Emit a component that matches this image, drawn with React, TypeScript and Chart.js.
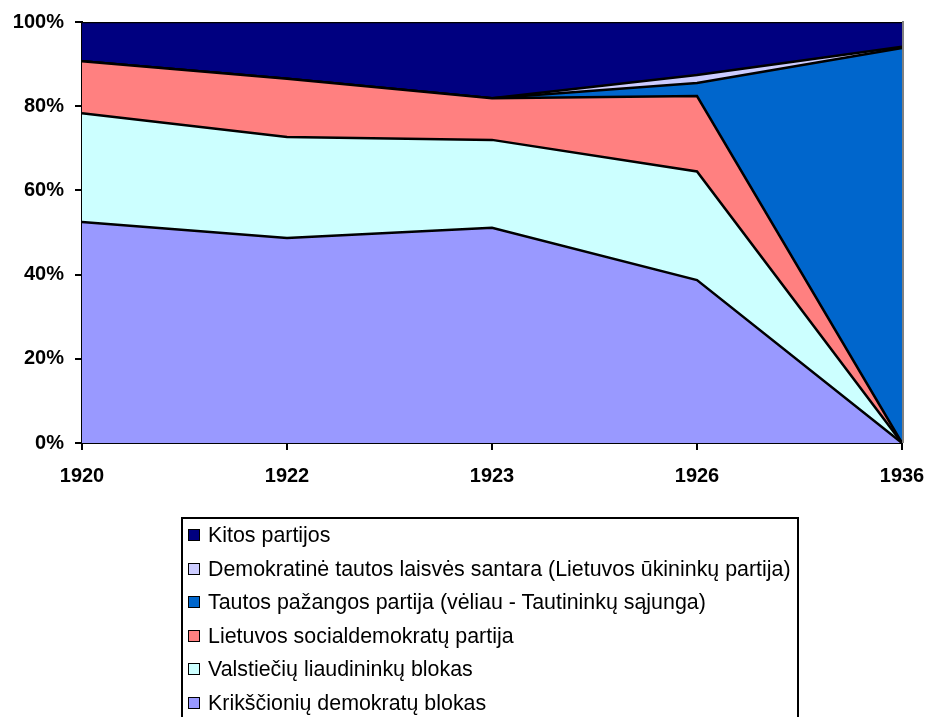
import React, { useEffect, useRef } from "react";
import { Chart, registerables } from "chart.js";

Chart.register(...registerables);

const years = ["1920", "1922", "1923", "1926", "1936"];

const krikscioniu = [52.5, 48.7, 51.1, 38.7, 0];
const valstieciu = [25.8, 24.0, 20.9, 25.8, 0];
const socialdemokratu = [12.4, 13.8, 9.9, 17.9, 0];
const tautosPazangos = [0, 0, 0, 3.1, 93.8];
const demokratine = [0, 0, 0, 1.9, 0.3];
const kitos = [9.3, 13.5, 18.1, 12.6, 5.9];

const yTicks = [0, 20, 40, 60, 80, 100];

const seriesNames = [
  "Krikščionių demokratų blokas",
  "Valstiečių liaudininkų blokas",
  "Lietuvos socialdemokratų partija",
  "Tautos pažangos partija (vėliau - Tautininkų sąjunga)",
  "Demokratinė tautos laisvės santara (Lietuvos ūkininkų partija)",
  "Kitos partijos",
];
const seriesValues = [krikscioniu, valstieciu, socialdemokratu, tautosPazangos, demokratine, kitos];
const seriesColors = ["#9999FF", "#CCFFFF", "#FF8080", "#0066CC", "#CCCCFF", "#000080"];

const FONT = '"Liberation Sans", Arial, Helvetica, sans-serif';

export default function App() {
  const canvasRef = useRef<HTMLCanvasElement | null>(null);

  useEffect(() => {
    if (!canvasRef.current) return;
    const rightBorder = {
      id: "rightBorder",
      afterDatasetsDraw(chart: any) {
        const { ctx, chartArea } = chart;
        ctx.save();
        ctx.strokeStyle = "#808080";
        ctx.lineWidth = 2;
        ctx.beginPath();
        ctx.moveTo(chartArea.right + 1, chartArea.top - 1);
        ctx.lineTo(chartArea.right + 1, chartArea.bottom);
        ctx.stroke();
        ctx.restore();
      },
    };
    const chart = new Chart(canvasRef.current, {
      type: "line",
      data: {
        labels: years,
        datasets: seriesValues.map((vals, i) => ({
          label: seriesNames[i],
          data: vals,
          backgroundColor: seriesColors[i],
          borderColor: "#000000",
          borderWidth: 2.5,
          pointRadius: 0,
          tension: 0,
          fill: i === 0 ? "origin" : "-1",
        })),
      },
      options: {
        responsive: false,
        animation: false,
        layout: { padding: { top: 22, right: 25, left: 0, bottom: 0 } },
        plugins: { legend: { display: false }, tooltip: { enabled: false } },
        scales: {
          x: {
            type: "category",
            offset: false,
            grid: {
              display: true,
              drawOnChartArea: false,
              drawTicks: true,
              tickLength: 7,
              color: "#000000",
              lineWidth: 2,
            },
            border: { display: true, color: "#000000", width: 2 },
            ticks: {
              color: "#000000",
              font: { family: FONT, size: 20, weight: "bold" },
              padding: 14,
              maxRotation: 0,
              autoSkip: false,
            },
            afterFit: (scale: any) => {
              scale.height = 274;
              scale.paddingRight = 0;
              scale.paddingLeft = 0;
            },
          },
          y: {
            stacked: true,
            min: 0,
            max: 100,
            afterBuildTicks: (scale: any) => {
              scale.ticks = yTicks.map((v) => ({ value: v }));
            },
            grid: {
              display: true,
              drawOnChartArea: false,
              drawTicks: true,
              tickLength: 7,
              color: "#000000",
              lineWidth: 2,
            },
            border: { display: true, color: "#000000", width: 2 },
            ticks: {
              color: "#000000",
              font: { family: FONT, size: 20, weight: "bold" },
              padding: 11,
              callback: (v: any) => v + "%",
            },
            afterFit: (scale: any) => {
              scale.width = 82;
              scale.paddingTop = 0;
              scale.paddingBottom = 0;
            },
          },
        },
      },
      plugins: [rightBorder],
    });
    return () => chart.destroy();
  }, []);

  const legendOrder = [5, 4, 3, 2, 1, 0];

  return (
    <div style={{ position: "absolute", left: 0, top: 0, width: 927, height: 717, overflow: "hidden", background: "#fff" }}>
      <canvas ref={canvasRef} width={927} height={717} style={{ position: "absolute", left: 0, top: 0 }} />
      <div
        style={{
          position: "absolute",
          left: 181,
          top: 517,
          width: 614,
          height: 240,
          border: "2px solid #000",
          boxSizing: "content-box",
        }}
      />
      {legendOrder.map((idx, row) => {
        const cy = 535 + row * 33.6;
        return (
          <div key={idx}>
            <div
              style={{
                position: "absolute",
                left: 188,
                top: cy - 6,
                width: 10,
                height: 10,
                border: "1px solid #000",
                background: seriesColors[idx],
              }}
            />
            <div
              style={{
                position: "absolute",
                left: 208,
                top: cy - 13,
                height: 26,
                lineHeight: "26px",
                fontFamily: FONT,
                fontSize: 21.4,
                color: "#000",
                whiteSpace: "nowrap",
              }}
            >
              {seriesNames[idx]}
            </div>
          </div>
        );
      })}
    </div>
  );
}
